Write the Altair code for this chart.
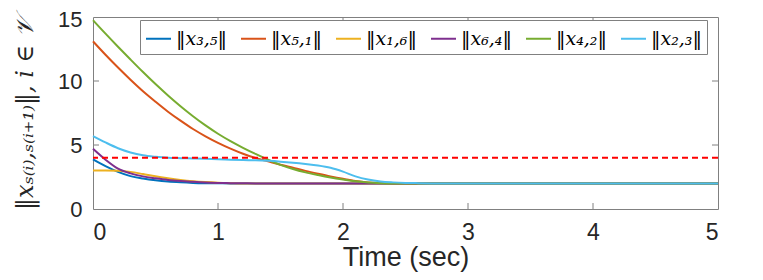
import altair as alt
import pandas as pd

# ---- data ----
t_grid = [0.0, 0.1, 0.2, 0.3, 0.4, 0.5, 0.6, 0.7, 0.8, 0.9, 1.0, 1.1, 1.2, 1.3, 1.4,
          1.5, 1.6, 1.7, 1.8, 1.9, 2.0, 2.1, 2.2, 2.3, 2.4, 2.5, 2.6, 2.8, 3.0, 5.0]

x35 = [3.88, 3.35, 2.90, 2.57, 2.38, 2.24, 2.14, 2.08, 2.04, 2.02, 2.01, 2.0, 2.0, 2.0, 2.0,
       2.0, 2.0, 2.0, 2.0, 2.0, 2.0, 2.0, 2.0, 2.0, 2.0, 2.0, 2.0, 2.0, 2.0, 2.0]
x51 = [13.1, 12.05, 11.05, 10.1, 9.2, 8.38, 7.6, 6.9, 6.25, 5.68, 5.17, 4.72, 4.32, 3.98, 3.72,
       3.46, 3.22, 2.98, 2.76, 2.55, 2.36, 2.19, 2.08, 2.03, 2.0, 2.0, 2.0, 2.0, 2.0, 2.0]
x16 = [3.0, 3.0, 2.98, 2.9, 2.73, 2.55, 2.4, 2.27, 2.17, 2.1, 2.05, 2.02, 2.0, 2.0, 2.0,
       2.0, 2.0, 2.0, 2.0, 2.0, 2.0, 2.0, 2.0, 2.0, 2.0, 2.0, 2.0, 2.0, 2.0, 2.0]
x64 = [4.7, 3.85, 3.15, 2.78, 2.55, 2.4, 2.27, 2.18, 2.12, 2.07, 2.04, 2.02, 2.01, 2.0, 2.0,
       2.0, 2.0, 2.0, 2.0, 2.0, 2.0, 2.0, 2.0, 2.0, 2.0, 2.0, 2.0, 2.0, 2.0, 2.0]
x42 = [14.75, 13.7, 12.68, 11.68, 10.7, 9.76, 8.87, 8.03, 7.25, 6.53, 5.88, 5.3, 4.78, 4.3, 3.85,
       3.45, 3.12, 2.86, 2.65, 2.46, 2.3, 2.16, 2.07, 2.02, 2.0, 2.0, 2.0, 2.0, 2.0, 2.0]
x23 = [5.7, 5.2, 4.75, 4.42, 4.2, 4.08, 4.0, 3.97, 3.95, 3.92, 3.88, 3.85, 3.82, 3.8, 3.76,
       3.7, 3.62, 3.52, 3.4, 3.22, 2.92, 2.55, 2.3, 2.15, 2.08, 2.04, 2.02, 2.0, 2.0, 2.0]

series_names = ["‖x₃,₅‖", "‖x₅,₁‖", "‖x₁,₆‖", "‖x₆,₄‖", "‖x₄,₂‖", "‖x₂,₃‖"]
series_values = [x35, x51, x16, x64, x42, x23]
series_colors = ["#0072BD", "#D95319", "#EDB120", "#7E2F8E", "#77AC30", "#4DBEEE"]

threshold = [4.0]
x_ticks = [1, 2, 3, 4]
y_ticks = [5, 10]

rows = []
for name, vals in zip(series_names, series_values):
    for t, v in zip(t_grid, vals):
        rows.append({"t": t, "v": v, "edge": name})
df = pd.DataFrame(rows)

W, H = 625, 192
FRAME = "#808080"
TXT = "#262626"

xscale = alt.Scale(domain=[0, 5], nice=False, zero=False)
yscale = alt.Scale(domain=[0, 15], nice=False)

lines = alt.Chart(df).mark_line(strokeWidth=2, interpolate="monotone").encode(
    x=alt.X("t:Q", scale=xscale,
            axis=alt.Axis(title="Time (sec)", values=[0, 1, 2, 3, 4, 5], format="d",
                          tickSize=0, domain=False, grid=False, labelPadding=12,
                          labelFontSize=23, labelColor=TXT, labelFont="Liberation Sans",
                          titleFontSize=27, titleFont="Liberation Sans", titleFontWeight="normal",
                          titleColor=TXT, titlePadding=0)),
    y=alt.Y("v:Q", scale=yscale,
            axis=alt.Axis(title="‖xₛ₍ᵢ₎,ₛ₍ᵢ₊₁₎‖, i ∈ 𝒱", values=[0, 5, 10, 15],
                          tickSize=0, domain=False, grid=False, labelPadding=11,
                          labelOffset={"condition": {"test": "datum.value == 15", "value": 2},
                                       "value": 0},
                          labelFontSize=22, labelColor=TXT, labelFont="Liberation Sans",
                          titleFontSize=24, titleFont="DejaVu Serif", titleFontStyle="italic",
                          titleFontWeight="normal", titleColor=TXT, titlePadding=20)),
    color=alt.Color("edge:N",
                    scale=alt.Scale(domain=series_names, range=series_colors),
                    sort=series_names,
                    legend=alt.Legend(title=None, orient="none", legendX=47, legendY=3,
                                      direction="horizontal", columns=6,
                                      symbolType="stroke", symbolSize=625, symbolStrokeWidth=2,
                                      labelFont="DejaVu Serif", labelFontStyle="italic",
                                      labelFontSize=19, labelColor="#000000",
                                      columnPadding=10, padding=5,
                                      fillColor="white", strokeColor="#808080")),
)

thr = alt.Chart(pd.DataFrame({"y": threshold})).mark_rule(
    color="#FF0000", strokeWidth=2, strokeDash=[6, 4]).encode(y=alt.Y("y:Q", scale=yscale))

xt = pd.DataFrame({"x": x_ticks})
yt = pd.DataFrame({"y": y_ticks})
tick_bottom = alt.Chart(xt).mark_rule(color=FRAME, strokeWidth=1).encode(
    x=alt.X("x:Q", scale=xscale), y=alt.value(H), y2=alt.value(H - 6))
tick_top = alt.Chart(xt).mark_rule(color=FRAME, strokeWidth=1).encode(
    x=alt.X("x:Q", scale=xscale), y=alt.value(0), y2=alt.value(6))
tick_left = alt.Chart(yt).mark_rule(color=FRAME, strokeWidth=1).encode(
    y=alt.Y("y:Q", scale=yscale), x=alt.value(0), x2=alt.value(6))
tick_right = alt.Chart(yt).mark_rule(color=FRAME, strokeWidth=1).encode(
    y=alt.Y("y:Q", scale=yscale), x=alt.value(W - 6), x2=alt.value(W))

chart = alt.layer(tick_bottom, tick_top, tick_left, tick_right, lines, thr).properties(
    width=W, height=H,
    autosize=alt.AutoSizeParams(type="none"),
    padding={"left": 85, "top": 9, "right": 30, "bottom": 70},
    background="white",
).configure_view(stroke=FRAME, strokeWidth=1)

chart.save("out.html", embed_options={"renderer": "svg", "actions": False})
